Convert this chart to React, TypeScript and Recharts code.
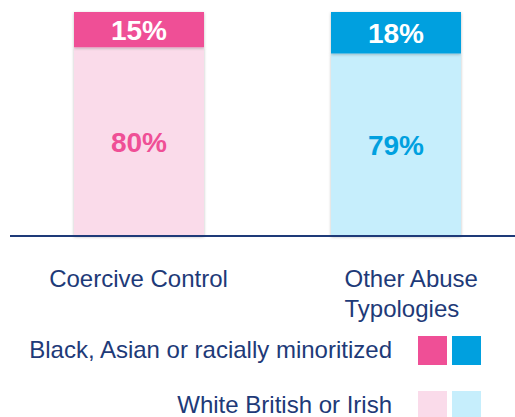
import { BarChart, Bar, XAxis, YAxis, LabelList, Cell, Rectangle } from "recharts"

const categories = ["Coercive Control", "Other Abuse Typologies"]
const tickLines = [["Coercive Control"], ["Other Abuse", "Typologies"]]
const whiteValues = [80, 79]
const minoritizedValues = [15, 18]
const seriesNames = ["Black, Asian or racially minoritized", "White British or Irish"]

const darkColors = ["#ef4f96", "#00a0df"]
const lightColors = ["#fadbea", "#c6eefc"]
const navy = "#1e3a78"
const font = "'Liberation Sans', Arial, sans-serif"

const data = categories.map((name, i) => ({
  name,
  white: whiteValues[i],
  minoritized: minoritizedValues[i],
}))

function CategoryTick({ x, y, index }: any) {
  const lines = tickLines[index] || []
  const multi = lines.length > 1
  return (
    <g>
      {lines.map((line, i) => (
        <text
          key={i}
          x={multi ? x - 51 : x}
          y={y + 43 + i * 30}
          textAnchor={multi ? "start" : "middle"}
          fill={navy}
          fontSize={24}
          fontFamily={font}
        >
          {line}
        </text>
      ))}
    </g>
  )
}

function makeLabel(colors: string[] | null) {
  return (props: any) => {
    const { x, y, width, height, value, index } = props
    return (
      <text
        x={x + width / 2}
        y={y + height / 2}
        dy={10}
        textAnchor="middle"
        fill={colors ? colors[index] : "#ffffff"}
        fontSize={28}
        fontWeight="bold"
        fontFamily={font}
      >
        {`${value}%`}
      </text>
    )
  }
}

const ShadowBar = (props: any) => <Rectangle {...props} filter="url(#barShadow)" />

function LegendRow({ label, colors }: { label: string; colors: string[] }) {
  return (
    <div style={{ display: "flex", alignItems: "center", height: 30 }}>
      <div style={{ width: 392, textAlign: "right", color: navy, fontSize: 24, fontFamily: font }}>{label}</div>
      <div style={{ width: 26 }} />
      {colors.map((c, i) => (
        <div key={i} style={{ width: 29, height: 29, background: c, marginRight: 5 }} />
      ))}
    </div>
  )
}

export default function App() {
  return (
    <div style={{ position: "absolute", left: 0, top: 0, width: 515, height: 417, overflow: "hidden", background: "#fff" }}>
      <BarChart
        width={524}
        height={417}
        data={data}
        stackOffset="expand"
        barSize={130}
        margin={{ top: 12, right: 0, bottom: 0, left: 10 }}
      >
        <defs>
          <filter id="barShadow" x="-10%" y="-10%" width="120%" height="120%">
            <feDropShadow dx="0" dy="1" stdDeviation="1.5" floodColor="#000" floodOpacity="0.25" />
          </filter>
        </defs>
        <YAxis hide domain={[0, 1]} />
        <XAxis
          dataKey="name"
          axisLine={{ stroke: navy, strokeWidth: 2 }}
          tickLine={false}
          height={181}
          interval={0}
          tick={<CategoryTick />}
        />
        <Bar dataKey="white" stackId="a" isAnimationActive={false} shape={ShadowBar}>
          {data.map((_, i) => (
            <Cell key={i} fill={lightColors[i]} />
          ))}
          <LabelList dataKey="white" content={makeLabel(darkColors)} />
        </Bar>
        <Bar dataKey="minoritized" stackId="a" isAnimationActive={false} shape={ShadowBar}>
          {data.map((_, i) => (
            <Cell key={i} fill={darkColors[i]} />
          ))}
          <LabelList dataKey="minoritized" content={makeLabel(null)} />
        </Bar>
      </BarChart>
      <div style={{ position: "absolute", left: 0, top: 335 }}>
        <LegendRow label={seriesNames[0]} colors={darkColors} />
      </div>
      <div style={{ position: "absolute", left: 0, top: 390 }}>
        <LegendRow label={seriesNames[1]} colors={lightColors} />
      </div>
    </div>
  )
}
